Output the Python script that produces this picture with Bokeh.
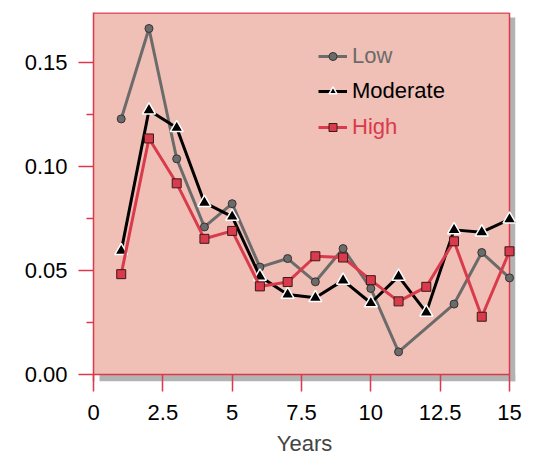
from bokeh.plotting import figure
from bokeh.models import Range1d, FixedTicker, Legend, LegendItem
from bokeh.embed import file_html
from bokeh.resources import INLINE

years = list(range(1, 16))
low_x = [1, 2, 3, 4, 5, 6, 7, 8, 9, 10, 11, 13, 14, 15]
low = [0.123, 0.1665, 0.1038, 0.0710, 0.0822, 0.0517, 0.0558, 0.0446, 0.0606, 0.0414, 0.0109, 0.0339, 0.0587, 0.0465]
moderate = [0.0595, 0.1272, 0.1187, 0.0827, 0.0760, 0.0472, 0.0385, 0.0369, 0.0453, 0.0344, 0.0472, 0.0299, 0.0696, 0.0685, 0.0747]
high = [0.0483, 0.1136, 0.0920, 0.0653, 0.0691, 0.0424, 0.0445, 0.0569, 0.0563, 0.0454, 0.0352, 0.0422, 0.0641, 0.0278, 0.0593]

x_ticks = [0, 2.5, 5, 7.5, 10, 12.5, 15]
x_tick_labels = ["0", "2.5", "5", "7.5", "10", "12.5", "15"]
y_ticks = [0.0, 0.05, 0.10, 0.15]
y_tick_labels = ["0.00", "0.05", "0.10", "0.15"]
y_minor = [0.025, 0.075, 0.125]

x_min, x_max = 0, 15
y_min, y_max = 0, 0.1742

RED = "#d93a4c"
GRAY = "#6b6b6b"
PINK = "#f0bfb5"
SHADOW = "#b3b3b3"
FONT = "Liberation Sans"

# pixel scales of the panel: 27.733 px per year, 2084 px per unit
px_x = 1 / 27.733
px_y = 1 / 2084.0

p = figure(width=525, height=458, output_backend="svg", toolbar_location=None,
           x_range=Range1d(x_min, x_max + 6 * px_x), y_range=Range1d(y_min - 7 * px_y, y_max),
           min_border_left=93, min_border_right=10, min_border_top=12, min_border_bottom=76)
p.background_fill_color = "white"
p.border_fill_color = "white"
p.outline_line_color = None
p.grid.visible = False

# panel, shadow and panel border
p.quad(left=[x_min], right=[x_max], bottom=[y_min], top=[y_max], fill_color=PINK, line_color=None)
p.quad(left=[x_max, x_min + 6 * px_x], right=[x_max + 6 * px_x, x_max + 6 * px_x],
       bottom=[y_min - 7 * px_y, y_min - 7 * px_y], top=[y_max - 5 * px_y, y_min],
       fill_color=SHADOW, line_color=None)
p.line([x_min, x_max, x_max], [y_max - 0.6 * px_y, y_max - 0.6 * px_y, y_min], line_color=RED, line_width=1.5)
p.line([x_min, x_max], [y_min, y_min], line_color=RED, line_width=1.5)

r_low_l = p.line(low_x, low, line_color=GRAY, line_width=3)
r_low_m = p.scatter(low_x, low, marker="circle", size=8, fill_color=GRAY, line_color="#333333", line_width=1)
r_mod_l = p.line(years, moderate, line_color="black", line_width=3)
r_mod_m = p.scatter(years, moderate, marker="triangle", size=13, fill_color="black", line_color="white", line_width=1.5)
r_high_l = p.line(years, high, line_color=RED, line_width=3)
r_high_m = p.scatter(years, high, marker="square", size=9, fill_color=RED, line_color="#3a1a1a", line_width=1)

for ax in (p.xaxis, p.yaxis):
    ax.axis_line_color = RED
    ax.axis_line_width = 1.5
    ax.major_tick_line_color = RED
    ax.minor_tick_line_color = RED
    ax.major_tick_line_width = 1.5
    ax.minor_tick_line_width = 1.5
    ax.major_tick_in = 0
    ax.minor_tick_in = 0
    ax.major_label_text_font = FONT
    ax.major_label_text_font_size = "22px"
    ax.major_label_text_color = "black"
    ax.axis_label_text_font = FONT
    ax.axis_label_text_font_style = "normal"
    ax.axis_label_text_font_size = "22px"

p.xaxis.axis_line_color = None
p.xaxis.ticker = FixedTicker(ticks=x_ticks, minor_ticks=[])
p.xaxis.major_label_overrides = {t: l for t, l in zip(x_ticks, x_tick_labels)}
p.xaxis.major_tick_in = 7
p.xaxis.major_tick_out = 10
p.xaxis.major_label_standoff = 13
p.xaxis.axis_label = "Years"
p.xaxis.axis_label_standoff = 8

p.yaxis.ticker = FixedTicker(ticks=y_ticks, minor_ticks=y_minor)
p.yaxis.major_label_overrides = {t: l for t, l in zip(y_ticks, y_tick_labels)}
p.yaxis.major_tick_out = 15
p.yaxis.minor_tick_out = 7
p.yaxis.major_label_standoff = 11

entries = [("Low", [r_low_l, r_low_m], GRAY, 312),
           ("Moderate", [r_mod_l, r_mod_m], "black", 277),
           ("High", [r_high_l, r_high_m], RED, 241)]
for label, rs, col, ypos in entries:
    lg = Legend(items=[LegendItem(label=label, renderers=rs)], location=(225, ypos),
                background_fill_alpha=0, border_line_color=None,
                label_text_font=FONT, label_text_font_size="22px", label_text_color=col,
                glyph_width=29, label_standoff=5, padding=0, margin=0)
    p.add_layout(lg, "center")

open("out.html", "w").write(file_html(p, INLINE))
